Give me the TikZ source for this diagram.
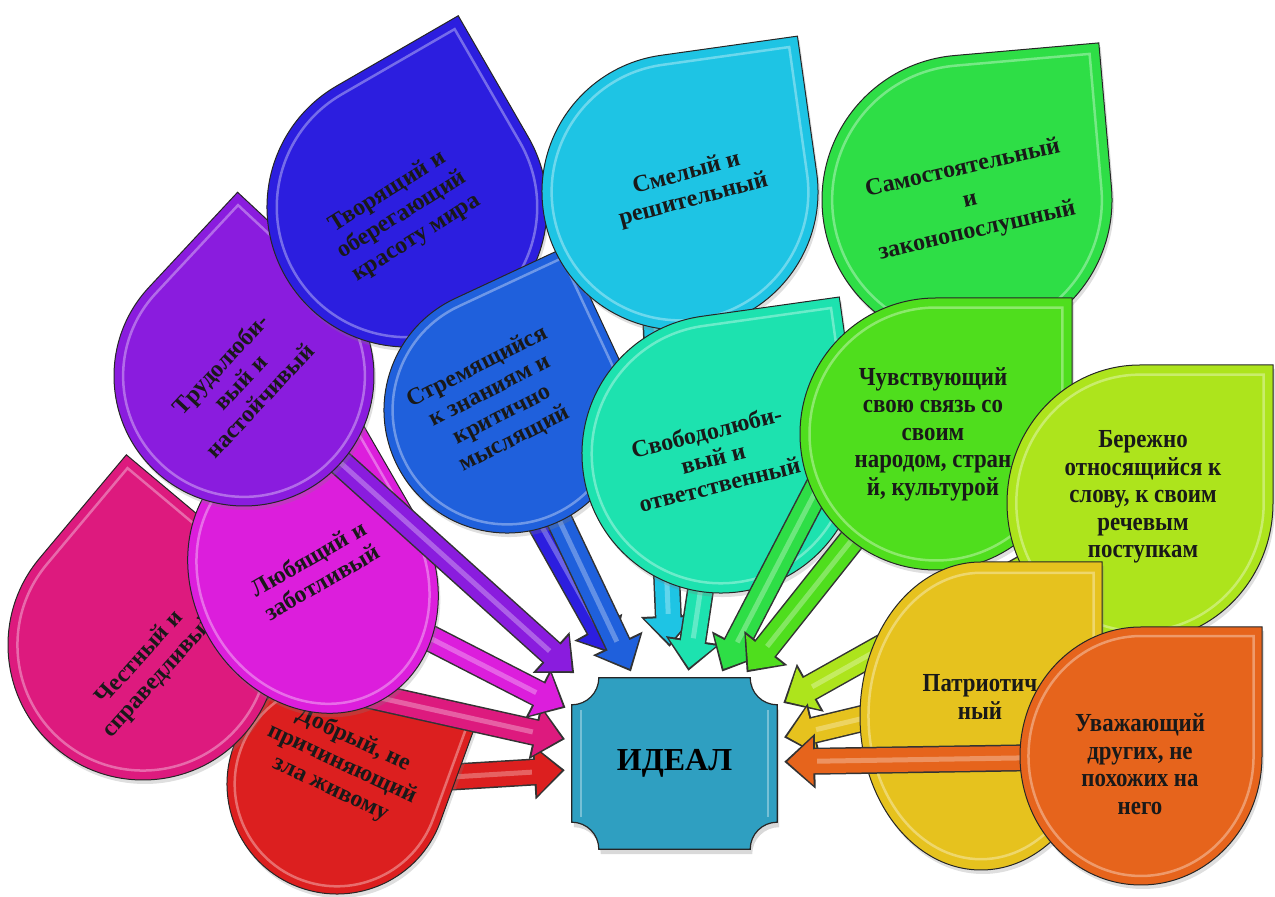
\documentclass[tikz,border=0pt]{standalone}
\usepackage{fontspec}
\setmainfont{Liberation Serif}
\newfontfamily\narrowfont[FakeStretch=0.88]{Liberation Serif}
\usetikzlibrary{arrows.meta,shadows,backgrounds}

\definecolor{dobrred}{HTML}{DC1F1F}
\definecolor{chestpink}{HTML}{DD1A7E}
\definecolor{lyubmag}{HTML}{DC1EDC}
\definecolor{trudviolet}{HTML}{8A1CDE}
\definecolor{tvorindigo}{HTML}{2C1EDF}
\definecolor{stremblue}{HTML}{1F60DC}
\definecolor{smelcyan}{HTML}{1EC4E4}
\definecolor{svobteal}{HTML}{1DE2AF}
\definecolor{samogreen}{HTML}{2EDE46}
\definecolor{chuvgreen}{HTML}{4FDE1D}
\definecolor{berezhlime}{HTML}{ADE41C}
\definecolor{patryellow}{HTML}{E6C21E}
\definecolor{uvazhorange}{HTML}{E6641C}
\definecolor{idealblue}{HTML}{2F9FC1}

\tikzset{
  leaf/.style={draw=black!85, line width=1pt,
    drop shadow={opacity=0.25, shadow xshift=2pt, shadow yshift=-4pt}},
  gloss/.style={draw=white, opacity=0.35, line width=2.5pt},
  leaftext/.style={align=center, inner sep=0pt, text=black!90,
    font=\bfseries\fontsize{24}{27}\selectfont},
  narrowtext/.style={align=center, inner sep=0pt, text=black!90,
    font=\narrowfont\bfseries\fontsize{26}{27.5}\selectfont},
  pointer/.style 2 args={line width=24pt, draw=#1, shorten >=#2,
    -{Triangle[width=46pt,length=26pt]},
    preaction={draw=black!80, line width=27pt, shorten >=#2-3pt,
      -{Triangle[width=53pt,length=31pt]}},
    postaction={draw=white, opacity=0.3, line width=5pt, shorten >=#2+30pt, -}},
  idealtext/.style={minimum width=205pt, minimum height=171pt, inner sep=0pt,
    font=\bfseries\fontsize{32}{36}\selectfont},
  idealbox/.style={draw=black!85, line width=1.2pt, fill=idealblue,
    drop shadow={opacity=0.3, shadow xshift=2pt, shadow yshift=-5pt}}
}

% centre, x radius, y radius, turn, colour
\newcommand\teardrop[5]{%
  \begin{scope}[shift={#1}, rotate=#4]
    \draw[leaf, fill=#5] (0,#3) arc[start angle=90, end angle=360, x radius=#2, y radius=#3] -- (#2,#3) -- cycle;
    \draw[gloss, scale=0.93] (0,#3) arc[start angle=90, end angle=360, x radius=#2, y radius=#3] -- (#2,#3) -- cycle;
  \end{scope}
}

\begin{document}
\begin{tikzpicture}[x=1pt, y=1pt]
  \useasboundingbox (0,0) rectangle (1275,897);

  % where the arrows start (hidden under the drops)
  \coordinate (dobr-from) at (337,113);
  \coordinate (chest-from) at (143,252);
  \coordinate (lyub-from) at (313,319);
  \coordinate (trud-from) at (244,521);
  \coordinate (tvor-from) at (487,468);
  \coordinate (strem-from) at (507,487);
  \coordinate (smel-from) at (655,597);
  \coordinate (svob-from) at (721,443);
  \coordinate (samo-from) at (967,697);
  \coordinate (chuv-from) at (936,463);
  \coordinate (berezh-from) at (1140,394);
  \coordinate (patr-from) at (981,207);
  \coordinate (uvazh-from) at (1141,141);

  % centre
  \node[idealtext] (ideal) at (674.5,133.5) {ИДЕАЛ};
  \begin{scope}[on background layer]
    \draw[idealbox] ([xshift=27pt]ideal.north west) -- ([xshift=-27pt]ideal.north east)
      arc[start angle=180, end angle=270, radius=27pt] -- ([yshift=27pt]ideal.south east)
      arc[start angle=90, end angle=180, radius=27pt] -- ([xshift=27pt]ideal.south west)
      arc[start angle=0, end angle=90, radius=27pt] -- ([yshift=-27pt]ideal.north west)
      arc[start angle=270, end angle=360, radius=27pt] -- cycle;
    \draw[gloss] ([xshift=9pt,yshift=32pt]ideal.south west) -- ([xshift=9pt,yshift=-32pt]ideal.north west);
    \draw[gloss] ([xshift=-9pt,yshift=32pt]ideal.south east) -- ([xshift=-9pt,yshift=-32pt]ideal.north east);
  \end{scope}

  % left group
  \draw[pointer={dobrred}{10pt}] (dobr-from) -- (ideal);
  \teardrop{(337,113)}{110}{110}{-20}{dobrred}
  \draw[pointer={chestpink}{10pt}] (chest-from) -- (ideal);
  \node[leaftext, rotate=-25] (dobr) at (342,133) {Добрый, не\\причиняющий\\зла живому};
  \teardrop{(143,252)}{135}{135}{50}{chestpink}
  \node[leaftext, rotate=48] (chest) at (150,230) {Честный и\\справедливый};
  \draw[pointer={lyubmag}{10pt}] (lyub-from) -- (ideal);
  \teardrop{(313,319)}{120}{140}{30}{lyubmag}
  \node[leaftext, rotate=30] (lyub) at (315,327) {Любящий и\\заботливый};
  \draw[pointer={trudviolet}{10pt}] (trud-from) -- (ideal);
  \teardrop{(244,521)}{130}{130}{47}{trudviolet}
  \node[leaftext, rotate=47] (trud) at (240,515) {Трудолюби-\\вый и\\настойчивый};
  \draw[pointer={tvorindigo}{30pt}] (tvor-from) -- (ideal);
  \teardrop{(407,690)}{140}{140}{30}{tvorindigo}
  \node[leaftext, rotate=32] (tvor) at (402,682) {Творящий и\\оберегающий\\красоту мира};
  \draw[pointer={stremblue}{10pt}] (strem-from) -- (ideal);
  \teardrop{(507,487)}{123}{123}{25}{stremblue}
  \node[leaftext, rotate=27] (strem) at (496,494) {Стремящийся\\к знаниям и\\критично\\мыслящий};

  % top group
  \draw[pointer={smelcyan}{34pt}] (smel-from) -- (ideal);
  \teardrop{(680,705)}{138}{138}{8}{smelcyan}
  \node[leaftext, rotate=15] (smel) at (690,710) {Смелый и\\решительный};
  \draw[pointer={svobteal}{10pt}] (svob-from) -- (ideal);
  \teardrop{(721,443)}{139}{139}{8}{svobteal}
  \node[leaftext, rotate=14] (svob) at (713,439) {Свободолюби-\\вый и\\ответственный};
  \draw[pointer={samogreen}{10pt}] (samo-from) -- (ideal);
  \teardrop{(967,697)}{145}{145}{5}{samogreen}
  \node[leaftext, rotate=13] (samo) at (970,697) {Самостоятельный\\[5pt]и\\[5pt]законопослушный};

  % right group
  \draw[pointer={chuvgreen}{10pt}] (chuv-from) -- (ideal);
  \teardrop{(936,463)}{136}{136}{0}{chuvgreen}
  \node[narrowtext] (chuv) at (933,463) {Чувствующий\\свою связь со\\своим\\народом, стран\\й, культурой};
  \draw[pointer={berezhlime}{10pt}] (berezh-from) -- (ideal);
  \teardrop{(1140,394)}{133}{138}{0}{berezhlime}
  \node[narrowtext] (berezh) at (1143,400) {Бережно\\относящийся к\\слову, к своим\\речевым\\поступкам};
  \draw[pointer={patryellow}{10pt}] (patr-from) -- (ideal);
  \teardrop{(981,181)}{121}{154}{0}{patryellow}
  \node[narrowtext] (patr) at (980,200) {Патриотич\\ный};
  \draw[pointer={uvazhorange}{10pt}] (uvazh-from) -- (ideal);
  \teardrop{(1141,141)}{121}{129}{0}{uvazhorange}
  \node[narrowtext] (uvazh) at (1140,133) {Уважающий\\других, не\\похожих на\\него};
\end{tikzpicture}
\end{document}
